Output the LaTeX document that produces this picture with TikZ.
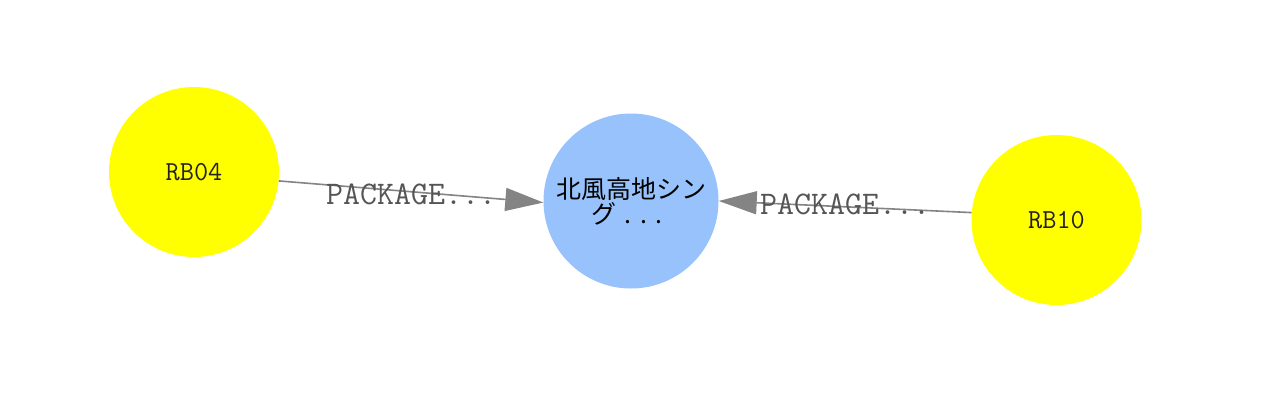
\documentclass[tikz,border=0pt]{standalone}
\usepackage{fontspec}
\newfontfamily\cjk{Noto Sans CJK JP}
\usetikzlibrary{arrows.meta}
\definecolor{visyellow}{HTML}{FFFF00}
\definecolor{visblue}{HTML}{97C2FC}
\definecolor{edgegrey}{HTML}{848484}
\definecolor{labelgrey}{HTML}{555555}
\definecolor{nodetext}{HTML}{222222}
\begin{document}
\begin{tikzpicture}[x=1pt,y=-1pt,
  yellownode/.style={circle,fill=visyellow,minimum size=170pt,inner sep=0pt,text=nodetext,font=\ttfamily\fontsize{27.5}{30}\selectfont},
  bluenode/.style={circle,fill=visblue,minimum size=175pt,inner sep=0pt,text=black,align=center,font=\cjk\fontsize{25}{25}\selectfont},
  edgeline/.style={draw=edgegrey,line width=1.6pt,-{Triangle[length=38pt,width=23pt]}},
  edgelabel/.style={text=labelgrey,font=\ttfamily\fontsize{33}{35}\selectfont,inner sep=0pt}]
\useasboundingbox (0,0) rectangle (1288,413);
\fill[white] (0,0) rectangle (1288,413);
\node[yellownode] (rb04) at (194,172) {RB04};
\node[bluenode] (center) at (631,201) {北風高地シン\\\kern-8pt グ\kern8pt.\kern9pt.\kern9pt.};
\node[yellownode] (rb10) at (1056.5,220) {RB10};
\draw[edgeline] (rb04.-6.7) -- node[edgelabel,midway,yshift=-2.5pt] {PACKAGE...} (center.181.3);
\draw[edgeline] (rb10.175.3) -- node[edgelabel,midway,yshift=2pt] {PACKAGE...} (center.-0.5);
\end{tikzpicture}
\end{document}
